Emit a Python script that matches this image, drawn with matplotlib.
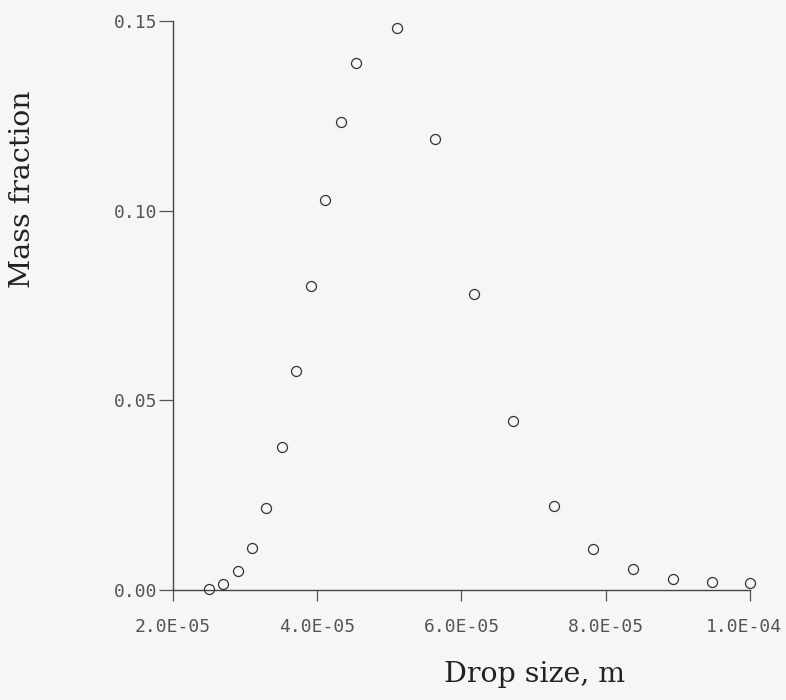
import matplotlib
matplotlib.use("Agg")
import matplotlib.pyplot as plt
import matplotlib.transforms as mtransforms

drop_size = [2.50e-5, 2.69e-5, 2.90e-5, 3.10e-5, 3.29e-5, 3.51e-5, 3.71e-5,
             3.92e-5, 4.11e-5, 4.33e-5, 4.54e-5, 5.10e-5, 5.63e-5, 6.17e-5,
             6.72e-5, 7.28e-5, 7.83e-5, 8.38e-5, 8.93e-5, 9.47e-5, 1.00e-4]
mass_fraction = [0.0003, 0.0017, 0.0049, 0.0112, 0.0216, 0.0376, 0.0577,
                 0.0802, 0.1029, 0.1234, 0.1390, 0.1482, 0.1190, 0.0780,
                 0.0446, 0.0222, 0.0108, 0.0055, 0.0030, 0.0020, 0.0018]

x_ticks = [2.0e-5, 4.0e-5, 6.0e-5, 8.0e-5, 1.0e-4]
x_tick_labels = ["2.0E-05", "4.0E-05", "6.0E-05", "8.0E-05", "1.0E-04"]
y_ticks = [0.00, 0.05, 0.10, 0.15]
y_tick_labels = ["0.00", "0.05", "0.10", "0.15"]

bg = "#f6f6f8"
fig = plt.figure(figsize=(7.86, 7.00), dpi=100, facecolor=bg)
ax = fig.add_axes([0.2201, 0.1571, 0.9542 - 0.2201, 0.97 - 0.1571])
ax.set_facecolor(bg)

ax.plot(drop_size, mass_fraction, linestyle="none", marker="o",
        markersize=7.2, markerfacecolor="none", markeredgecolor="#333333",
        markeredgewidth=0.9, clip_on=False, zorder=3)

ax.set_xlim(2.0e-5, 1.0e-4)
ax.set_ylim(0.0, 0.15)
for s in ["top", "right"]:
    ax.spines[s].set_visible(False)
for s in ["left", "bottom"]:
    ax.spines[s].set_color("#444444")
    ax.spines[s].set_linewidth(1.0)

ax.set_xticks(x_ticks)
ax.set_xticklabels(x_tick_labels, fontfamily="DejaVu Sans Mono",
                   fontsize=13, color="#555555")
ax.set_yticks(y_ticks)
ax.set_yticklabels(y_tick_labels, fontfamily="DejaVu Sans Mono",
                   fontsize=13, color="#555555")
ax.tick_params(axis="x", direction="out", length=8, width=0.9,
               color="#555555", pad=12)
ax.tick_params(axis="y", direction="out", length=10, width=0.9,
               color="#555555", pad=1)
ax.minorticks_off()

# nudge the last x tick label left so it stays inside the figure
last = ax.get_xticklabels()[-1]
last.set_transform(last.get_transform() +
                   mtransforms.ScaledTranslation(-6 / 100, 0, fig.dpi_scale_trans))

ax.set_xlabel("Drop size, m", fontfamily="DejaVu Serif", fontsize=20.5,
              color="#222222")
ax.xaxis.set_label_coords(0.627, -0.125)
ax.set_ylabel("Mass fraction", fontfamily="DejaVu Serif", fontsize=20.5,
              color="#222222")
ax.yaxis.set_label_coords(-0.237, 0.705)

fig.savefig("out.png", dpi=100, facecolor=bg)
